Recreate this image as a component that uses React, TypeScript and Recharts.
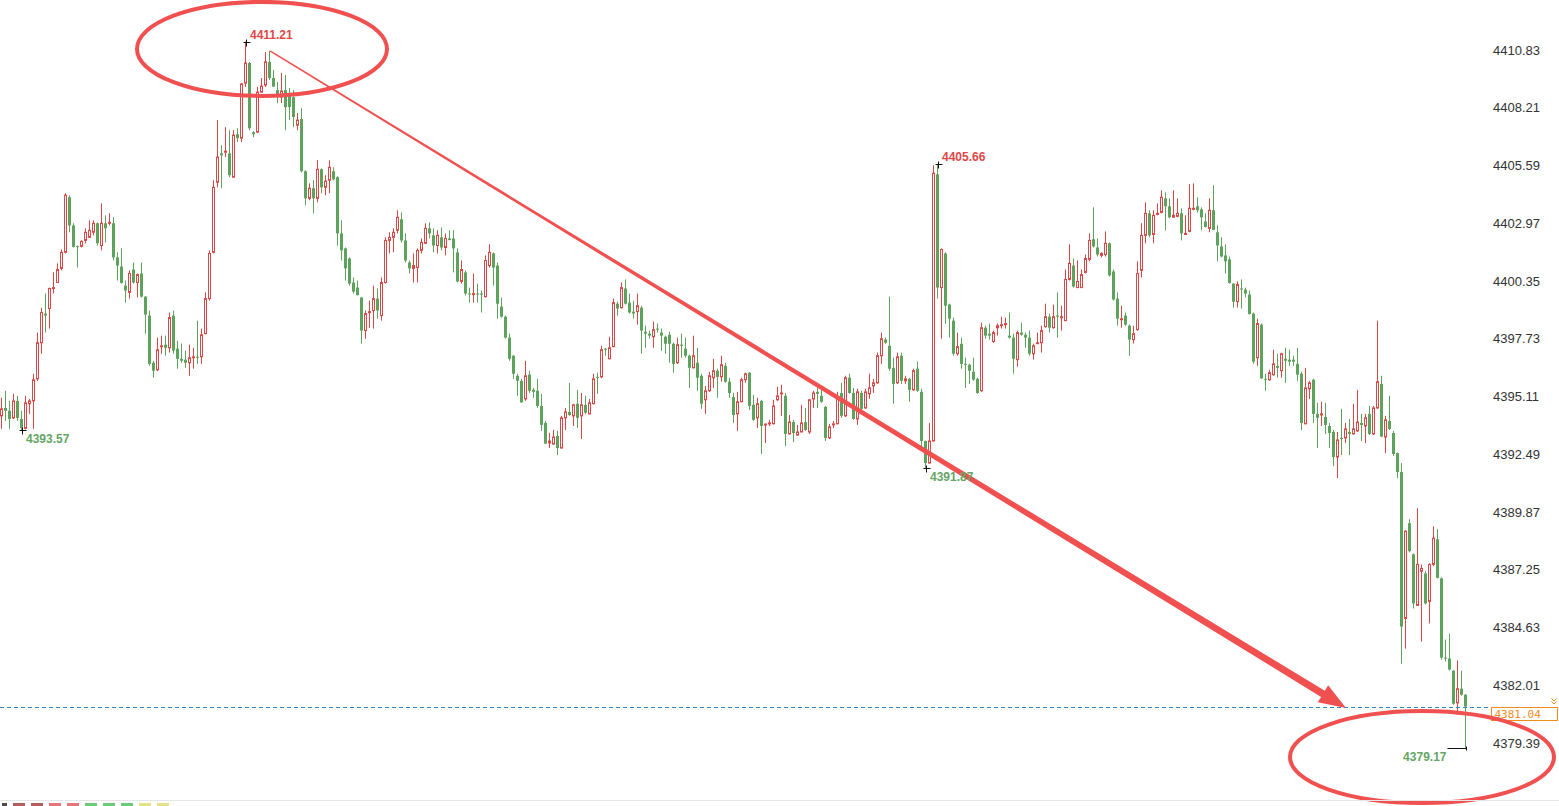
import { ComposedChart, Bar, XAxis, YAxis, ReferenceLine, ReferenceDot } from 'recharts';

// 1-minute candles, oldest first (367 bars)
const OPEN = [
  4394.23, 4394.59, 4394.46, 4394.14, 4394.91, 4394.09, 4393.66, 4394.78, 4394.91, 4395.91,
  4397.55, 4398.87, 4399.10, 4400.01, 4400.28, 4400.92, 4401.65, 4404.15, 4402.87, 4401.93,
  4401.92, 4402.19, 4402.33, 4402.56, 4402.97, 4401.96, 4402.97, 4402.97, 4402.97, 4401.42,
  4401.01, 4400.14, 4399.83, 4400.87, 4400.28, 4400.69, 4399.64, 4398.78, 4396.64, 4396.32,
  4397.37, 4397.46, 4397.32, 4398.78, 4397.28, 4396.82, 4396.78, 4396.64, 4396.87, 4396.91,
  4396.91, 4397.96, 4399.55, 4401.65, 4404.83, 4406.14, 4406.19, 4406.14, 4405.06, 4407.01,
  4406.83, 4409.33, 4410.24, 4407.10, 4407.10, 4408.92, 4409.24, 4410.29, 4409.56, 4409.01,
  4408.69, 4409.01, 4408.79, 4408.69, 4407.42, 4407.70, 4405.33, 4404.10, 4404.56, 4404.10,
  4405.42, 4404.60, 4404.92, 4405.33, 4405.06, 4402.51, 4401.83, 4401.37, 4400.28, 4400.05,
  4399.60, 4398.10, 4398.92, 4399.01, 4399.55, 4398.78, 4400.28, 4402.19, 4402.33, 4402.65,
  4403.15, 4402.19, 4401.19, 4400.92, 4400.96, 4401.74, 4402.06, 4402.74, 4402.42, 4401.96,
  4402.33, 4401.87, 4402.28, 4402.28, 4401.65, 4400.33, 4400.74, 4399.78, 4399.73, 4399.78,
  4399.78, 4399.64, 4401.05, 4401.60, 4401.05, 4399.19, 4398.73, 4397.78, 4396.96, 4396.05,
  4395.82, 4395.00, 4396.10, 4395.41, 4395.37, 4394.68, 4393.91, 4393.00, 4392.95, 4393.32,
  4392.77, 4394.14, 4394.41, 4394.23, 4394.78, 4394.23, 4394.73, 4394.32, 4394.78, 4396.00,
  4396.00, 4397.28, 4396.82, 4397.37, 4399.32, 4399.14, 4400.01, 4399.37, 4398.96, 4398.96,
  4399.14, 4398.05, 4397.96, 4397.82, 4398.19, 4398.01, 4397.82, 4397.91, 4397.50, 4396.64,
  4397.46, 4397.28, 4396.96, 4396.41, 4396.64, 4396.05, 4394.96, 4395.37, 4395.96, 4396.28,
  4396.00, 4396.50, 4395.78, 4395.09, 4394.32, 4394.87, 4395.87, 4396.19, 4394.73, 4394.14,
  4394.91, 4393.82, 4393.87, 4393.87, 4394.96, 4395.23, 4395.14, 4393.41, 4393.95, 4393.36,
  4393.50, 4393.95, 4393.50, 4395.00, 4395.32, 4395.14, 4394.64, 4393.23, 4393.82, 4393.87,
  4395.27, 4394.23, 4395.96, 4395.27, 4394.09, 4395.27, 4394.59, 4395.23, 4395.59, 4395.73,
  4396.96, 4397.69, 4397.41, 4396.41, 4395.73, 4396.96, 4395.82, 4395.91, 4395.41, 4396.37,
  4395.32, 4393.09, 4392.09, 4393.09, 4405.19, 4400.05, 4401.60, 4399.28, 4398.55, 4397.05,
  4397.50, 4396.59, 4396.55, 4396.23, 4395.91, 4395.37, 4398.23, 4397.96, 4397.60, 4398.23,
  4398.32, 4398.37, 4397.87, 4397.78, 4396.78, 4398.01, 4397.91, 4397.78, 4397.05, 4397.51,
  4397.55, 4398.28, 4398.73, 4398.23, 4398.78, 4398.69, 4398.55, 4400.42, 4401.05, 4400.05,
  4400.05, 4400.74, 4401.33, 4402.24, 4401.87, 4401.51, 4401.55, 4402.06, 4400.78, 4399.55,
  4398.60, 4398.78, 4398.32, 4397.69, 4398.14, 4400.83, 4402.42, 4403.42, 4402.46, 4403.37,
  4403.46, 4404.10, 4403.74, 4403.24, 4403.28, 4403.42, 4402.46, 4402.60, 4403.60, 4403.74,
  4403.60, 4403.05, 4402.74, 4403.56, 4402.56, 4401.92, 4401.51, 4401.33, 4400.23, 4399.41,
  4400.01, 4399.96, 4399.73, 4398.87, 4396.87, 4398.37, 4395.91, 4395.87, 4396.10, 4396.50,
  4396.28, 4396.82, 4396.78, 4396.78, 4396.59, 4396.14, 4393.87, 4395.46, 4395.87, 4394.32,
  4394.27, 4394.18, 4393.77, 4393.50, 4392.36, 4393.23, 4393.23, 4393.50, 4393.41, 4393.55,
  4393.91, 4393.77, 4394.32, 4393.41, 4394.59, 4395.68, 4393.27, 4394.00, 4393.45, 4392.54,
  4391.68, 4385.04, 4389.36, 4387.95, 4385.63, 4387.18, 4387.08, 4385.81, 4387.49, 4388.63,
  4386.86, 4383.26, 4383.22, 4382.67, 4381.21, 4381.85, 4381.58,
];

const HIGH = [
  4395.05, 4395.37, 4394.91, 4395.23, 4395.14, 4394.46, 4395.14, 4395.00, 4396.14, 4398.01,
  4399.14, 4399.78, 4400.05, 4400.74, 4401.15, 4401.78, 4404.33, 4404.24, 4402.97, 4401.96,
  4402.19, 4402.74, 4403.10, 4403.10, 4403.01, 4403.87, 4403.33, 4403.42, 4403.24, 4401.65,
  4401.83, 4400.37, 4400.83, 4401.19, 4400.69, 4401.19, 4399.66, 4399.01, 4396.73, 4397.78,
  4397.87, 4397.87, 4398.92, 4399.01, 4397.64, 4397.51, 4397.19, 4397.46, 4397.32, 4398.55,
  4398.19, 4399.83, 4401.74, 4404.92, 4407.65, 4406.51, 4407.33, 4407.19, 4407.19, 4407.28,
  4409.33, 4411.21, 4410.29, 4407.15, 4409.15, 4409.56, 4410.74, 4410.79, 4409.92, 4409.38,
  4409.79, 4409.70, 4409.10, 4409.01, 4407.97, 4408.19, 4405.37, 4404.78, 4404.92, 4405.83,
  4405.46, 4405.15, 4405.83, 4405.51, 4405.10, 4403.10, 4401.87, 4401.42, 4400.51, 4400.37,
  4399.62, 4399.01, 4399.46, 4400.14, 4400.01, 4400.51, 4402.33, 4402.56, 4402.74, 4403.56,
  4403.46, 4402.51, 4401.28, 4401.60, 4401.83, 4402.28, 4402.97, 4403.01, 4402.74, 4402.65,
  4402.78, 4402.51, 4402.65, 4402.65, 4401.83, 4401.28, 4400.83, 4400.05, 4400.69, 4400.23,
  4399.92, 4401.51, 4402.01, 4401.65, 4401.19, 4399.60, 4398.78, 4397.96, 4396.98, 4396.14,
  4395.91, 4396.73, 4396.28, 4395.50, 4395.91, 4395.23, 4394.00, 4393.46, 4393.59, 4393.55,
  4394.23, 4394.59, 4395.73, 4394.78, 4395.41, 4395.27, 4395.14, 4395.00, 4396.14, 4396.19,
  4397.41, 4397.32, 4397.82, 4399.55, 4399.41, 4400.28, 4400.42, 4399.78, 4399.46, 4399.78,
  4399.23, 4398.32, 4398.10, 4398.51, 4398.42, 4398.19, 4397.87, 4398.05, 4397.55, 4397.78,
  4397.96, 4397.78, 4397.01, 4397.87, 4397.32, 4396.14, 4395.59, 4396.23, 4396.82, 4396.37,
  4396.96, 4396.64, 4395.96, 4395.27, 4395.32, 4395.96, 4396.19, 4396.21, 4395.18, 4395.05,
  4394.96, 4393.87, 4394.05, 4394.96, 4395.55, 4395.64, 4395.27, 4394.27, 4394.05, 4393.82,
  4394.73, 4394.59, 4395.00, 4395.37, 4395.73, 4395.46, 4394.68, 4393.87, 4394.00, 4395.32,
  4395.73, 4396.05, 4396.14, 4395.50, 4395.46, 4395.37, 4395.46, 4396.14, 4395.91, 4397.10,
  4398.01, 4397.78, 4399.64, 4396.87, 4397.10, 4397.10, 4396.05, 4395.96, 4396.37, 4396.69,
  4395.46, 4393.11, 4393.91, 4405.60, 4405.66, 4401.83, 4401.65, 4399.32, 4398.69, 4398.01,
  4397.78, 4396.87, 4396.59, 4396.87, 4395.96, 4398.46, 4398.32, 4398.42, 4398.10, 4398.42,
  4398.73, 4398.69, 4398.92, 4397.96, 4398.10, 4398.46, 4398.01, 4398.10, 4397.51, 4398.01,
  4398.32, 4399.32, 4398.87, 4399.28, 4399.83, 4399.23, 4400.87, 4402.01, 4401.37, 4401.28,
  4400.87, 4401.55, 4402.51, 4403.69, 4402.28, 4401.65, 4402.60, 4402.10, 4400.87, 4399.83,
  4399.23, 4398.92, 4398.37, 4398.32, 4401.24, 4402.97, 4403.92, 4403.56, 4403.56, 4403.87,
  4404.47, 4404.37, 4404.10, 4404.47, 4404.10, 4403.65, 4403.33, 4404.74, 4404.78, 4404.15,
  4403.69, 4403.42, 4404.10, 4404.69, 4402.87, 4402.33, 4402.01, 4401.46, 4400.25, 4400.33,
  4400.42, 4400.05, 4399.92, 4398.92, 4398.64, 4398.42, 4396.14, 4396.32, 4397.23, 4397.05,
  4397.10, 4397.32, 4397.23, 4396.96, 4397.32, 4396.23, 4396.41, 4395.82, 4395.91, 4394.82,
  4394.87, 4394.82, 4393.91, 4393.59, 4393.50, 4394.55, 4393.91, 4394.09, 4394.78, 4395.41,
  4394.32, 4394.32, 4394.68, 4394.68, 4398.55, 4396.05, 4394.23, 4395.14, 4393.55, 4392.56,
  4392.09, 4389.04, 4389.54, 4387.99, 4390.04, 4387.49, 4387.18, 4387.54, 4389.22, 4389.09,
  4386.90, 4384.08, 4384.35, 4382.69, 4383.13, 4382.67, 4381.60,
];

const LOW = [
  4393.64, 4394.00, 4393.64, 4394.09, 4394.00, 4393.57, 4393.62, 4394.32, 4393.64, 4395.82,
  4397.05, 4398.01, 4398.19, 4399.78, 4400.26, 4400.83, 4401.60, 4402.56, 4401.87, 4400.96,
  4401.87, 4402.06, 4402.31, 4402.42, 4401.96, 4401.74, 4402.10, 4402.87, 4401.28, 4400.37,
  4400.23, 4399.37, 4399.55, 4400.23, 4399.60, 4399.60, 4397.96, 4396.50, 4395.96, 4396.26,
  4397.05, 4396.96, 4397.10, 4397.05, 4396.37, 4396.64, 4396.41, 4396.05, 4396.37, 4396.59,
  4396.59, 4397.94, 4399.46, 4401.60, 4404.60, 4404.56, 4405.97, 4405.06, 4405.04, 4406.65,
  4406.65, 4409.15, 4407.19, 4406.87, 4407.06, 4408.88, 4409.15, 4409.47, 4409.15, 4408.42,
  4408.42, 4407.19, 4407.65, 4407.33, 4407.19, 4405.28, 4403.78, 4404.01, 4403.42, 4403.92,
  4404.33, 4404.24, 4404.33, 4404.92, 4401.96, 4401.28, 4400.37, 4400.14, 4399.78, 4399.69,
  4397.51, 4397.73, 4398.23, 4398.19, 4398.64, 4398.55, 4400.23, 4401.60, 4401.65, 4402.51,
  4402.10, 4401.19, 4400.69, 4400.28, 4400.28, 4401.60, 4402.04, 4402.28, 4401.65, 4401.60,
  4401.74, 4401.51, 4402.19, 4400.74, 4400.28, 4400.23, 4399.69, 4399.37, 4399.37, 4399.37,
  4398.92, 4399.60, 4400.96, 4400.14, 4398.64, 4398.69, 4397.73, 4396.73, 4395.91, 4395.14,
  4394.82, 4394.91, 4395.27, 4395.05, 4394.59, 4393.55, 4392.95, 4392.77, 4392.93, 4392.45,
  4392.75, 4393.59, 4394.23, 4393.77, 4393.68, 4393.18, 4394.32, 4394.30, 4394.76, 4395.23,
  4395.94, 4396.96, 4396.80, 4397.35, 4398.78, 4399.10, 4399.28, 4398.87, 4398.64, 4398.37,
  4397.05, 4397.32, 4397.73, 4397.32, 4398.01, 4397.19, 4397.05, 4396.64, 4396.19, 4396.59,
  4396.87, 4396.87, 4395.50, 4396.39, 4395.37, 4394.55, 4394.32, 4395.32, 4395.50, 4395.05,
  4395.78, 4395.73, 4395.05, 4393.91, 4393.55, 4394.85, 4395.73, 4394.50, 4394.00, 4393.68,
  4392.50, 4393.00, 4393.77, 4393.85, 4394.91, 4394.23, 4392.86, 4393.39, 4393.04, 4393.32,
  4393.48, 4393.55, 4393.41, 4394.59, 4394.59, 4394.82, 4393.09, 4393.18, 4393.68, 4393.85,
  4394.14, 4394.18, 4395.23, 4394.05, 4393.82, 4394.46, 4394.55, 4395.00, 4395.27, 4395.68,
  4396.59, 4397.50, 4396.28, 4394.78, 4395.68, 4395.68, 4395.68, 4394.87, 4395.37, 4395.32,
  4392.77, 4391.87, 4392.07, 4393.07, 4399.55, 4397.73, 4398.41, 4397.78, 4396.96, 4396.96,
  4396.37, 4395.50, 4395.68, 4395.82, 4395.23, 4395.32, 4397.73, 4397.69, 4397.55, 4397.87,
  4398.19, 4398.19, 4397.73, 4396.14, 4396.46, 4397.87, 4397.32, 4396.96, 4396.78, 4397.49,
  4397.10, 4398.23, 4398.01, 4398.19, 4397.78, 4398.10, 4398.53, 4400.37, 4400.05, 4400.03,
  4400.03, 4400.69, 4401.24, 4401.87, 4401.46, 4401.42, 4401.46, 4400.55, 4399.46, 4398.32,
  4398.23, 4398.32, 4396.96, 4397.51, 4398.10, 4400.51, 4402.06, 4402.33, 4402.06, 4403.33,
  4403.42, 4402.65, 4403.19, 4403.22, 4403.24, 4402.19, 4402.44, 4402.56, 4403.56, 4403.46,
  4402.65, 4402.78, 4402.56, 4402.65, 4401.24, 4401.42, 4400.69, 4400.23, 4399.14, 4399.14,
  4399.10, 4399.60, 4398.83, 4396.59, 4396.50, 4395.91, 4395.37, 4395.82, 4396.05, 4395.96,
  4395.96, 4395.73, 4396.50, 4396.50, 4395.82, 4393.59, 4393.85, 4395.00, 4393.91, 4392.77,
  4393.77, 4393.41, 4392.77, 4391.95, 4391.41, 4392.45, 4393.00, 4392.45, 4393.39, 4393.50,
  4393.09, 4393.00, 4393.36, 4393.36, 4394.55, 4393.27, 4392.54, 4393.59, 4392.41, 4391.41,
  4382.99, 4383.67, 4388.04, 4385.49, 4385.61, 4383.99, 4385.67, 4384.81, 4387.40, 4386.86,
  4383.17, 4383.08, 4382.67, 4381.12, 4380.67, 4381.53, 4379.17,
];

const CLOSE = [
  4394.55, 4394.46, 4394.09, 4394.91, 4394.14, 4393.68, 4394.82, 4394.91, 4395.87, 4397.55,
  4398.92, 4398.78, 4400.01, 4400.05, 4400.87, 4401.65, 4404.24, 4402.87, 4401.90, 4401.90,
  4402.15, 4402.56, 4402.65, 4402.97, 4402.06, 4402.97, 4402.74, 4403.01, 4401.42, 4401.05,
  4400.26, 4399.92, 4400.69, 4400.28, 4400.64, 4399.64, 4398.83, 4396.59, 4396.28, 4397.23,
  4397.41, 4397.32, 4398.69, 4397.19, 4396.82, 4396.73, 4396.64, 4396.87, 4396.91, 4396.87,
  4397.91, 4399.55, 4401.60, 4404.60, 4405.97, 4406.05, 4406.24, 4405.15, 4406.97, 4406.83,
  4409.29, 4410.24, 4407.28, 4407.01, 4408.92, 4409.19, 4410.29, 4409.56, 4409.17, 4408.69,
  4408.97, 4408.24, 4408.24, 4407.79, 4407.65, 4405.33, 4404.10, 4404.56, 4404.10, 4405.42,
  4404.60, 4404.88, 4405.51, 4404.96, 4402.51, 4401.74, 4400.92, 4400.23, 4399.87, 4399.71,
  4398.10, 4398.87, 4398.96, 4399.55, 4399.01, 4400.28, 4402.19, 4402.33, 4402.56, 4403.24,
  4402.19, 4401.28, 4400.92, 4401.05, 4401.74, 4402.10, 4402.74, 4402.51, 4401.96, 4402.42,
  4401.87, 4402.28, 4402.21, 4401.83, 4400.33, 4400.87, 4399.78, 4399.73, 4399.78, 4399.73,
  4399.73, 4401.28, 4401.65, 4400.96, 4399.32, 4398.73, 4397.78, 4396.82, 4396.14, 4395.82,
  4394.84, 4396.05, 4395.37, 4395.32, 4394.68, 4393.82, 4392.97, 4393.09, 4393.27, 4392.77,
  4394.14, 4394.41, 4394.27, 4394.73, 4394.14, 4394.73, 4394.37, 4394.82, 4395.91, 4395.96,
  4397.23, 4397.23, 4397.32, 4399.37, 4399.10, 4400.05, 4399.32, 4398.92, 4398.87, 4399.23,
  4398.10, 4397.96, 4397.87, 4398.14, 4398.14, 4397.87, 4397.50, 4397.50, 4396.59, 4397.46,
  4397.41, 4396.96, 4396.41, 4396.96, 4395.96, 4394.78, 4395.37, 4396.05, 4396.28, 4396.00,
  4396.55, 4395.78, 4395.27, 4394.27, 4394.87, 4395.87, 4396.14, 4394.68, 4394.05, 4394.78,
  4393.77, 4393.86, 4393.91, 4394.68, 4395.14, 4395.27, 4393.41, 4393.95, 4393.45, 4393.50,
  4393.91, 4393.59, 4394.96, 4395.27, 4395.23, 4394.87, 4393.23, 4393.73, 4393.87, 4395.00,
  4394.23, 4395.96, 4395.27, 4394.09, 4395.32, 4394.55, 4395.32, 4395.50, 4395.73, 4396.96,
  4397.73, 4397.55, 4396.37, 4395.68, 4396.91, 4395.82, 4395.91, 4395.41, 4396.28, 4395.37,
  4393.09, 4392.09, 4393.09, 4405.24, 4400.05, 4401.78, 4399.23, 4398.64, 4397.05, 4397.37,
  4396.59, 4396.55, 4396.28, 4395.87, 4395.27, 4398.23, 4397.87, 4397.87, 4398.01, 4398.32,
  4398.37, 4398.42, 4397.78, 4396.82, 4398.01, 4397.91, 4397.78, 4397.05, 4397.41, 4397.55,
  4398.10, 4398.73, 4398.23, 4398.73, 4398.73, 4398.73, 4400.42, 4401.15, 4400.10, 4400.33,
  4400.64, 4401.37, 4402.19, 4401.92, 4401.55, 4401.60, 4402.06, 4400.60, 4399.51, 4398.64,
  4398.64, 4398.37, 4397.69, 4397.96, 4400.69, 4402.42, 4403.42, 4402.42, 4403.33, 4403.42,
  4404.15, 4403.74, 4403.24, 4403.33, 4403.42, 4402.51, 4402.51, 4403.65, 4403.65, 4403.56,
  4403.24, 4402.80, 4403.56, 4402.67, 4401.96, 4401.46, 4401.24, 4400.26, 4399.41, 4400.19,
  4399.96, 4399.78, 4398.85, 4396.69, 4398.42, 4395.93, 4395.87, 4396.19, 4396.59, 4396.41,
  4397.05, 4396.73, 4396.69, 4396.69, 4396.10, 4393.91, 4395.50, 4395.73, 4394.32, 4394.14,
  4394.32, 4393.82, 4393.45, 4392.36, 4393.14, 4393.18, 4393.64, 4393.41, 4393.64, 4393.95,
  4393.82, 4394.14, 4393.41, 4394.59, 4395.78, 4393.29, 4394.05, 4393.64, 4392.50, 4391.68,
  4384.67, 4389.00, 4388.09, 4385.72, 4387.49, 4387.31, 4385.72, 4387.49, 4388.68, 4386.88,
  4383.26, 4383.22, 4382.72, 4381.17, 4381.85, 4381.58, 4381.04,
];

const PRICE_TICKS = [
  4379.39, 4382.01, 4384.63, 4387.25, 4389.87, 4392.49, 4395.11,
  4397.73, 4400.35, 4402.97, 4405.59, 4408.21, 4410.83,
];
const LAST_PRICE = 4381.04;

// bars whose extreme is marked on the chart
const MARKED_HIGHS = [61, 234];
const MARKED_LOWS = [5, 231];
const LAST_LOW_BAR = 366;

// hand drawn annotations, anchored in bar / price units
const CIRCLES = [
  { bar: 65, price: 4410.88, rx: 125, ry: 47 },
  { bar: 355, price: 4378.75, rx: 132, ry: 46 },
];
const ARROW_FROM = { bar: 67, price: 4410.79 };
const ARROW_TO = { bar: 336, price: 4380.98 };

const UP = '#dc4646';
const DOWN = '#5da35d';
const MARK_RED = '#e04848';
const MARK_GREEN = '#65a565';
const PEN = '#f0504f';

const data = CLOSE.map((close, i) => ({
  idx: i,
  open: OPEN[i],
  high: HIGH[i],
  low: LOW[i],
  close,
  range: [LOW[i], HIGH[i]],
}));

function Candle(props: any) {
  const { x, y, width, height, payload } = props;
  if (!payload) return null;
  const top = Math.min(y, y + height);
  const h = Math.abs(height);
  const span = payload.high - payload.low;
  const toY = (v: number) => (span > 0 ? top + ((payload.high - v) / span) * h : top);
  const cx = Math.floor(x + width / 2);
  const up = payload.close >= payload.open;
  const yo = toY(payload.open);
  const yc = toY(payload.close);
  const bTop = Math.min(yo, yc);
  const bBot = Math.max(yo, yc);
  const color = up ? UP : DOWN;
  if (up) {
    return (
      <g>
        <line x1={cx + 0.5} x2={cx + 0.5} y1={top} y2={bTop} stroke={color} strokeWidth={1} />
        <line x1={cx + 0.5} x2={cx + 0.5} y1={bBot} y2={top + h} stroke={color} strokeWidth={1} />
        <rect x={cx - 0.5} y={bTop} width={2} height={Math.max(bBot - bTop, 1)} fill="#fff" stroke={color} strokeWidth={1} />
      </g>
    );
  }
  return (
    <g>
      <line x1={cx + 0.5} x2={cx + 0.5} y1={top} y2={top + h} stroke={color} strokeWidth={1} />
      <rect x={cx - 1} y={bTop} width={3} height={Math.max(bBot - bTop, 1)} fill={color} />
    </g>
  );
}

const markFont = { fontFamily: '"Liberation Sans", Arial, sans-serif', fontSize: 12, fontWeight: 700 };

function Cross({ cx, cy }: { cx: number; cy: number }) {
  const px = Math.floor(cx) + 0.5;
  const py = Math.round(cy) + 0.5;
  return (
    <g stroke="#111" strokeWidth={1}>
      <line x1={px - 3} x2={px + 4} y1={py} y2={py} />
      <line x1={px} x2={px} y1={py - 3} y2={py + 4} />
    </g>
  );
}

function HighMark(props: any) {
  const { cx, cy, value } = props;
  return (
    <g>
      <Cross cx={cx} cy={cy} />
      <text x={cx + 4} y={cy - 3} fill={MARK_RED} style={markFont}>{value.toFixed(2)}</text>
    </g>
  );
}

function LowMark(props: any) {
  const { cx, cy, value } = props;
  return (
    <g>
      <Cross cx={cx} cy={cy} />
      <text x={cx + 4} y={cy + 13} fill={MARK_GREEN} style={markFont}>{value.toFixed(2)}</text>
    </g>
  );
}

function LastLowMark(props: any) {
  const { cx, cy, value } = props;
  const px = Math.floor(cx) + 0.5;
  const py = Math.round(cy) + 0.5;
  return (
    <g>
      <line x1={px - 19} x2={px} y1={py} y2={py} stroke="#111" strokeWidth={1} />
      <line x1={px} x2={px} y1={py - 2} y2={py + 2} stroke="#111" strokeWidth={1} />
      <text x={px - 20} y={cy + 13} textAnchor="end" fill={MARK_GREEN} style={markFont}>{value.toFixed(2)}</text>
    </g>
  );
}

function Circle(props: any) {
  const { cx, cy, rx, ry } = props;
  return <ellipse cx={cx} cy={cy} rx={rx} ry={ry} fill="none" stroke={PEN} strokeWidth={4} />;
}

function Arrow(props: any) {
  const { x1, y1, x2, y2 } = props;
  const dx = x2 - x1;
  const dy = y2 - y1;
  const len = Math.hypot(dx, dy);
  const ux = dx / len;
  const uy = dy / len;
  const nx = -uy;
  const ny = ux;
  const headLen = 27;
  const headHalf = 10;
  const w0 = 0.7;
  const w1 = 3.6;
  const bx = x2 - ux * headLen;
  const by = y2 - uy * headLen;
  const pts = [
    [x1 + nx * w0, y1 + ny * w0],
    [bx + nx * w1, by + ny * w1],
    [bx + nx * headHalf, by + ny * headHalf],
    [x2, y2],
    [bx - nx * headHalf, by - ny * headHalf],
    [bx - nx * w1, by - ny * w1],
    [x1 - nx * w0, y1 - ny * w0],
  ];
  return <polygon points={pts.map((p) => p.join(',')).join(' ')} fill={PEN} />;
}

function PriceLine(props: any) {
  const { x1, x2, y1 } = props;
  const left = Math.min(x1, x2);
  const right = Math.max(x1, x2);
  const y = Math.round(y1) + 0.5;
  const bx = right + 23.5;
  return (
    <g>
      <line x1={left} x2={right + 23} y1={y} y2={y} stroke="#2f86c4" strokeWidth={1} strokeDasharray="4 3" />
      <rect x={bx} y={y} width={66} height={13} fill="#fff" stroke="#ef8c1e" strokeWidth={1} />
      <text
        x={bx + 3}
        y={y + 10.5}
        fill="#ef8c1e"
        style={{ fontFamily: '"DejaVu Sans Mono", monospace', fontSize: 11 }}
      >
        {LAST_PRICE.toFixed(2)}
      </text>
      <polyline points={`${bx + 60},${y - 9} ${bx + 62.5},${y - 6.5} ${bx + 65},${y - 9}`} fill="none" stroke="#ef8c1e" strokeWidth={1} />
      <polyline points={`${bx + 60},${y - 6} ${bx + 62.5},${y - 3.5} ${bx + 65},${y - 6}`} fill="none" stroke="#ef8c1e" strokeWidth={1} />
    </g>
  );
}

// colour of the cut-off indicator legend fragments along the bottom edge
const FOOT_COLORS = ['#111', '#9b2a2a', '#9b2a2a', '#e04848', '#e04848', '#3cb84a', '#3cb84a', '#3cb84a', '#d8d860', '#d8d860'];

export default function App() {
  return (
    <div style={{ position: 'relative', width: 1559, height: 806, overflow: 'hidden', background: '#fff' }}>
      <style>{'body{margin:0}'}</style>
      <ComposedChart width={1559} height={806} data={data} margin={{ top: 0, right: 0, bottom: 6, left: 0 }}>
        <XAxis dataKey="idx" type="category" hide />
        <YAxis
          orientation="right"
          width={91}
          domain={[4376.801, 4413.099]}
          allowDataOverflow
          ticks={PRICE_TICKS}
          interval={0}
          axisLine={false}
          tickLine={false}
          tickSize={6}
          tickMargin={19}
          tickFormatter={(v: number) => v.toFixed(2)}
          tick={{ fill: '#333', fontSize: 13, fontFamily: '"Liberation Sans", Arial, sans-serif', textAnchor: 'start' }}
        />
        <Bar dataKey="range" isAnimationActive={false} shape={Candle} />
        <ReferenceLine y={LAST_PRICE} ifOverflow="visible" shape={PriceLine} />
        {MARKED_HIGHS.map((i) => (
          <ReferenceDot key={`h${i}`} x={i} y={HIGH[i]} ifOverflow="visible" shape={(p: any) => <HighMark {...p} value={HIGH[i]} />} />
        ))}
        {MARKED_LOWS.map((i) => (
          <ReferenceDot key={`l${i}`} x={i} y={LOW[i]} ifOverflow="visible" shape={(p: any) => <LowMark {...p} value={LOW[i]} />} />
        ))}
        <ReferenceDot
          x={LAST_LOW_BAR}
          y={LOW[LAST_LOW_BAR]}
          ifOverflow="visible"
          shape={(p: any) => <LastLowMark {...p} value={LOW[LAST_LOW_BAR]} />}
        />
        <ReferenceLine
          segment={[
            { x: ARROW_FROM.bar, y: ARROW_FROM.price },
            { x: ARROW_TO.bar, y: ARROW_TO.price },
          ]}
          ifOverflow="visible"
          shape={Arrow}
        />
        {CIRCLES.map((c) => (
          <ReferenceDot
            key={`c${c.bar}`}
            x={c.bar}
            y={c.price}
            ifOverflow="visible"
            shape={(p: any) => <Circle {...p} rx={c.rx} ry={c.ry} />}
          />
        ))}
      </ComposedChart>
      <div style={{ position: 'absolute', left: 0, top: 800, width: 1559, height: 1, background: '#e6e6e6' }} />
      <div style={{ position: 'absolute', left: 2, top: 803, display: 'flex', gap: 6 }}>
        {FOOT_COLORS.map((c, k) => (
          <div key={k} style={{ width: k === 0 ? 5 : 12, height: 3, background: c, opacity: 0.75 }} />
        ))}
      </div>
    </div>
  );
}
